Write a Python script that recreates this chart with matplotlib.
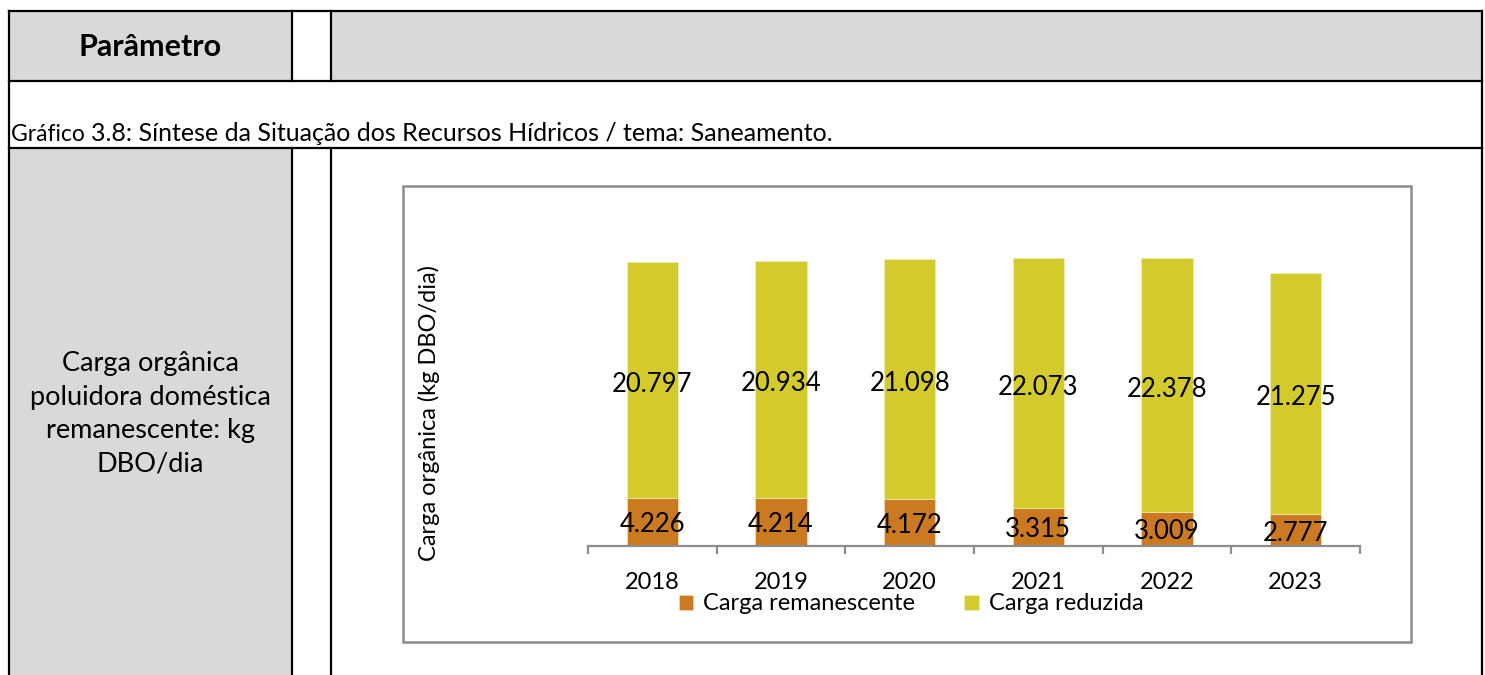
import matplotlib.pyplot as plt
from matplotlib.patches import Rectangle
from matplotlib.lines import Line2D

plt.rcParams['font.family'] = ['Lato', 'DejaVu Sans']

anos = ['2018', '2019', '2020', '2021', '2022', '2023']
carga_remanescente = [4226, 4214, 4172, 3315, 3009, 2777]
carga_reduzida = [20797, 20934, 21098, 22073, 22378, 21275]

cor_rem = '#CC7A22'
cor_red = '#D3CA2B'
cinza = '#D9D9D9'

W, H = 1485, 675
fig = plt.figure(figsize=(W / 100, H / 100), dpi=100)

# fundo da tabela, em coordenadas de pixel
bg = fig.add_axes([0, 0, 1, 1])
bg.set_xlim(0, W)
bg.set_ylim(H, 0)
bg.axis('off')

bg.add_patch(Rectangle((9, 11), 283, 70, fc=cinza, ec='none'))
bg.add_patch(Rectangle((331, 11), 1151, 70, fc=cinza, ec='none'))
bg.add_patch(Rectangle((9, 148), 283, H - 148, fc=cinza, ec='none'))

linhas = [
    ((9, 1482), (11, 11)),
    ((9, 1482), (81, 81)),
    ((9, 1482), (148, 148)),
    ((9, 9), (11, H)),
    ((1482, 1482), (11, H)),
    ((292, 292), (11, 81)),
    ((331, 331), (11, 81)),
    ((292, 292), (148, H)),
    ((331, 331), (148, H)),
]
for xs, ys in linhas:
    bg.add_line(Line2D(xs, ys, color='black', lw=1.6))

bg.text(150, 47, 'Parâmetro', ha='center', va='center', fontsize=22, fontweight='bold')
t1 = bg.text(11, 141, 'Gráfico ', ha='left', va='baseline', fontsize=16.5)
bg.annotate('3.8: Síntese da Situação dos Recursos Hídricos / tema: Saneamento.',
            xy=(1, 0), xycoords=t1, va='bottom', ha='left', fontsize=18)
bg.text(150, 414, 'Carga orgânica\npoluidora doméstica\nremanescente: kg\nDBO/dia',
        ha='center', va='center', fontsize=19.5, linespacing=1.43)

# moldura do gráfico
bg.add_patch(Rectangle((403, 186), 1008, 456, fc='white', ec='#8C8C8C', lw=1.8))

# gráfico de barras empilhadas
px_por_mil = 11.35
ax = fig.add_axes([588 / W, (H - 546) / H, (1360 - 588) / W, 346 / H])
x = range(len(anos))
b1 = ax.bar(x, carga_remanescente, width=0.4, color=cor_rem, edgecolor='#F2E6C8', lw=0.4,
            label='Carga remanescente')
b2 = ax.bar(x, carga_reduzida, width=0.4, bottom=carga_remanescente, color=cor_red,
            edgecolor='#F2F0C8', lw=0.4, label='Carga reduzida')

fmt = lambda v: f'{v:,}'.replace(',', '.')
ax.bar_label(b1, labels=[fmt(v) for v in carga_remanescente], label_type='center',
             fontsize=18.5, padding=-2)
ax.bar_label(b2, labels=[fmt(v) for v in carga_reduzida], label_type='center',
             fontsize=18.5, padding=-3)

ax.set_xlim(-0.5, 5.5)
ax.set_ylim(0, 346 / px_por_mil * 1000)
for s in ['top', 'left', 'right']:
    ax.spines[s].set_visible(False)
ax.spines['bottom'].set_color('#8C8C8C')
ax.spines['bottom'].set_linewidth(1.6)
ax.set_yticks([])
ax.set_xticks([i - 0.5 for i in range(len(anos) + 1)])
ax.set_xticklabels([])
ax.tick_params(axis='x', which='major', length=6, width=1.6, color='#8C8C8C', direction='out')
ax.set_xticks(list(x), minor=True)
ax.set_xticklabels(anos, minor=True, fontsize=17)
ax.tick_params(axis='x', which='minor', length=0, pad=19)

fig.text(429 / W, 1 - 413 / H, 'Carga orgânica (kg DBO/dia)', rotation=90,
         ha='center', va='center', fontsize=17)

fig.legend(handles=[b1, b2], loc='center', bbox_to_anchor=(911 / W, 1 - 604 / H), ncol=2,
           frameon=False, fontsize=17, handlelength=0.62, handleheight=0.62,
           handletextpad=0.4, columnspacing=2.1, borderpad=0)

fig.savefig('out.png', dpi=100)
